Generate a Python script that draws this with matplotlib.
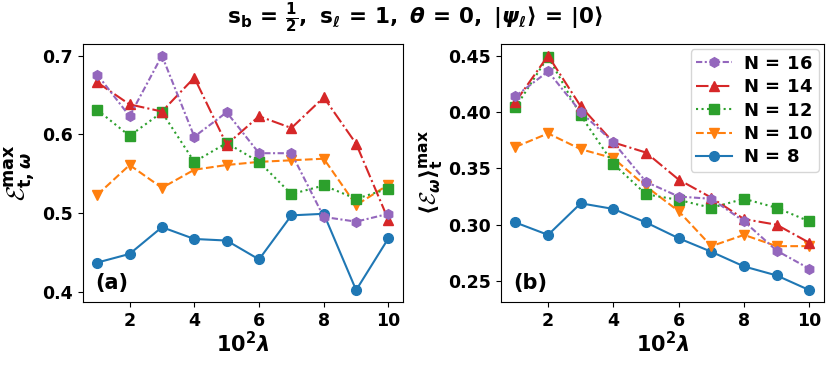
import matplotlib
matplotlib.use("Agg")
import matplotlib.pyplot as plt

plt.rcParams['font.family'] = ['DejaVu Sans']
plt.rcParams['font.weight'] = 'bold'
plt.rcParams['mathtext.fontset'] = 'custom'
plt.rcParams['mathtext.rm'] = 'DejaVu Sans:bold'
plt.rcParams['mathtext.bf'] = 'DejaVu Sans:bold'
plt.rcParams['mathtext.it'] = 'DejaVu Sans:italic:bold'
plt.rcParams['mathtext.sf'] = 'DejaVu Sans:bold'
plt.rcParams['mathtext.cal'] = 'cmsy10'
plt.rcParams['mathtext.fallback'] = 'stix'

lam = [1, 2, 3, 4, 5, 6, 7, 8, 9, 10]
xticks = [2, 4, 6, 8, 10]

# Panel (a): E_max
a_N8 = [0.437, 0.448, 0.482, 0.467, 0.465, 0.441, 0.497, 0.499, 0.402, 0.468]
a_N10 = [0.523, 0.561, 0.532, 0.555, 0.561, 0.565, 0.567, 0.569, 0.510, 0.536]
a_N12 = [0.631, 0.598, 0.628, 0.565, 0.589, 0.565, 0.524, 0.535, 0.518, 0.531]
a_N14 = [0.666, 0.638, 0.629, 0.672, 0.587, 0.623, 0.608, 0.647, 0.588, 0.491]
a_N16 = [0.676, 0.623, 0.700, 0.597, 0.628, 0.576, 0.576, 0.495, 0.489, 0.499]

# Panel (b): <E_w>_t max
b_N8 = [0.302, 0.291, 0.319, 0.314, 0.302, 0.288, 0.276, 0.263, 0.255, 0.242]
b_N10 = [0.369, 0.381, 0.367, 0.359, 0.334, 0.312, 0.281, 0.291, 0.281, 0.281]
b_N12 = [0.404, 0.449, 0.397, 0.354, 0.327, 0.322, 0.315, 0.323, 0.315, 0.303]
b_N14 = [0.409, 0.450, 0.405, 0.373, 0.364, 0.340, 0.324, 0.305, 0.300, 0.284]
b_N16 = [0.414, 0.436, 0.400, 0.373, 0.338, 0.325, 0.323, 0.303, 0.277, 0.261]

labels = [r'$\mathbf{N\,=\,8}$', r'$\mathbf{N\,=\,10}$', r'$\mathbf{N\,=\,12}$',
          r'$\mathbf{N\,=\,14}$', r'$\mathbf{N\,=\,16}$']

styles = [
    dict(color='C0', marker='o', linestyle='-'),
    dict(color='C1', marker='v', linestyle='--'),
    dict(color='C2', marker='s', linestyle=':'),
    dict(color='C3', marker='^', linestyle=(0, (6, 1.5, 1, 1.5))),
    dict(color='C4', marker='h', linestyle=(0, (3, 1.2, 1, 1.2))),
]

fig = plt.figure(figsize=(8.30, 3.69), dpi=100)
axa = fig.add_axes([0.0996, 0.182, 0.3860, 0.699])
axb = fig.add_axes([0.6033, 0.182, 0.3895, 0.699])

for ax, series in ((axa, [a_N8, a_N10, a_N12, a_N14, a_N16]),
                   (axb, [b_N8, b_N10, b_N12, b_N14, b_N16])):
    for ys, lab, st in zip(series, labels, styles):
        ax.plot(lam, ys, label=lab, markersize=7, linewidth=1.5, **st)
    ax.set_xticks(xticks)
    ax.tick_params(labelsize=12.5)
    for t in ax.get_xticklabels() + ax.get_yticklabels():
        t.set_fontweight('bold')
    ax.set_xlabel(r'$\mathbf{10^2}\lambda$', fontsize=15, labelpad=1)

axa.set_yticks([0.4, 0.5, 0.6, 0.7])
axb.set_yticks([0.25, 0.30, 0.35, 0.40, 0.45])
axb.set_yticklabels(['0.25', '0.30', '0.35', '0.40', '0.45'])

axa.set_ylabel(r'$\mathcal{E}_{\mathbf{t},\omega}^{\mathbf{max}}$', fontsize=18, labelpad=3)
axb.set_ylabel(r'$\langle\mathcal{E}_{\omega}\rangle_{\mathbf{t}}^{\mathbf{max}}$', fontsize=16, labelpad=2)

axa.text(0.04, 0.05, '(a)', transform=axa.transAxes, fontsize=15, fontweight='bold')
axb.text(0.04, 0.05, '(b)', transform=axb.transAxes, fontsize=15, fontweight='bold')

h, l = axb.get_legend_handles_labels()
axb.legend(h[::-1], l[::-1], loc='upper right', fontsize=13, handlelength=2.0,
           borderpad=0.3, labelspacing=0.3, handletextpad=0.6, borderaxespad=0.3)

fig.text(0.5, 0.951, r'$\mathbf{s_b\,=\,\frac{1}{2},\ s_\ell\,=\,1,\ }\theta\mathbf{\,=\,0,\ }|\psi_\ell\rangle\mathbf{\,=\,}|\mathbf{0}\rangle$',
         ha='center', va='center', fontsize=15.5)

fig.savefig('out.png', dpi=100)
